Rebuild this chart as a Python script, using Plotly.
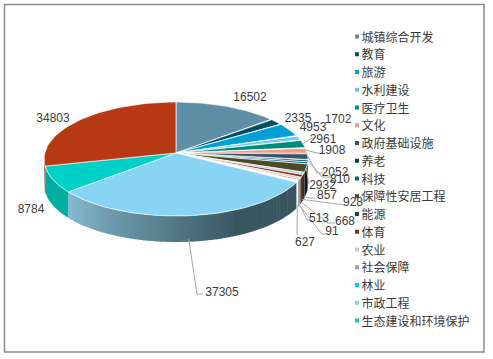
import numpy as np
import plotly.graph_objects as go

categories = ["城镇综合开发", "教育", "旅游", "水利建设", "医疗卫生", "文化", "政府基础设施", "养老", "科技",
              "保障性安居工程", "能源", "体育", "农业", "社会保障", "林业", "市政工程", "生态建设和环境保护"]
legend_colors = ["#5f8fa6", "#004d66", "#00a0d6", "#66ccf5", "#008a7c", "#f29a88", "#34586a", "#00405c", "#006a8a",
                 "#4b4b28", "#0a4a5e", "#8a2a14", "#e0c4b4", "#a0a4a4", "#00c5f5", "#87d4f5", "#00d1c8"]
values = [16502, 2335, 4953, 1702, 2961, 1908, 2052, 810, 700, 2932, 857, 928, 668, 513, 91, 627, 37305, 8784, 34803]
value_labels = ["16502", "2335", "4953", "1702", "2961", "1908", "2052", "810", "", "2932", "857", "928", "668", "513",
                "91", "627", "37305", "8784", "34803"]
slice_colors = ["#5f8fa6", "#004d66", "#00a0d6", "#66ccf5", "#008a7c", "#f29a88", "#34586a", "#00405c", "#006a8a",
                "#4b4b28", "#a9d6e6", "#8a2a14", "#e0c4b4", "#a0a4a4", "#00c5f5", "#ffffff", "#87d4f5", "#00d1c8",
                "#b83a14"]
wall_colors = ["#3a5a68", "#00303f", "#006488", "#3c8aa8", "#005a50", "#a06050", "#1f3a46", "#002a3c", "#00405a",
               "#141408", "#062c38", "#401206", "#907868", "#687070", "#0090b8", "#ffffff", None, "#00ad9f", "#8a2c10"]
label_pos = [(250, 97.5), (298, 118.5), (313, 127.5), (338, 119.5), (323, 139.5), (332, 150.5), (335, 172.5),
             (340, 179.5), (0, 0), (322.5, 185.5), (327, 195.5), (353, 202.5), (345, 221.5), (319, 218.5),
             (332, 231.5), (305, 242.5), (222, 292.5), (31, 209.5), (53, 118.5)]
leader_mid = [None, None, None, None, (312, 138), (317, 153), (317, 173), (322, 177), None, (309, 184),
              (310, 198), (340, 204), (328, 223), (307, 220), (322, 234), (297, 235), (197, 294), None, None]
leader_end = [None, None, None, None, (315, 138), (322, 153), (323, 173), (331, 177), None, (309, 184),
              (315, 198), (345, 205), (335, 223), (312, 220), (326, 234), (297, 235), (203, 294), None, None]

CX, CY, RX, RY, DEPTH = 176, 159, 132, 57, 26
APEX = (176, 153)
persp_in = [0, 49, 85, 100, 120, 231, 257, 360]
persp_out = [0, 46, 79, 94.5, 114, 235, 263, 360]


def warp(deg):
    return np.interp(deg, persp_in, persp_out)


def rim(deg, dy=0):
    t = np.radians(deg)
    return CX + RX * np.sin(t), CY - RY * np.cos(t) + dy


total = sum(values)
edges = np.concatenate([[0], np.cumsum(values)]) / total * 360
fig = go.Figure()


def poly(xs, ys, fill, line=None, width=0):
    fig.add_trace(go.Scatter(x=list(xs), y=list(ys), mode="lines", fill="toself", fillcolor=fill,
                             line=dict(color=line or fill, width=width if line else 0), hoverinfo="skip",
                             showlegend=False))


def mix(c1, c2, f):
    a = np.array([int(c1[i:i + 2], 16) for i in (1, 3, 5)])
    b = np.array([int(c2[i:i + 2], 16) for i in (1, 3, 5)])
    r = (a + (b - a) * f).astype(int)
    return f"rgb({r[0]},{r[1]},{r[2]})"


# side walls, back to front
order = sorted(range(len(values)), key=lambda i: -abs(180 - (warp(edges[i]) + warp(edges[i + 1])) / 2))
for i in order:
    a, b = warp(edges[i]), warp(edges[i + 1])
    a2, b2 = max(a, 90), min(b, 270)
    if a2 >= b2:
        continue
    if wall_colors[i] is None:
        steps = np.arange(a2, b2, 2.0)
        for s in steps:
            e = min(s + 2.4, b2)
            f = np.clip((s - a2) / (b2 - a2) * 1.45 - 0.45, 0, 1)
            ts = np.linspace(s, e, 4)
            x1, y1 = rim(ts)
            x2, y2 = rim(ts[::-1], DEPTH)
            poly(np.r_[x1, x2], np.r_[y1, y2], mix("#385660", "#86bcd2", f))
    else:
        ts = np.linspace(a2, b2, 30)
        x1, y1 = rim(ts)
        x2, y2 = rim(ts[::-1], DEPTH)
        poly(np.r_[x1, x2], np.r_[y1, y2], wall_colors[i], "rgba(255,255,255,0.35)", 0.5)

# top faces
for i in range(len(values)):
    ts = np.linspace(warp(edges[i]), warp(edges[i + 1]), 40)
    x, y = rim(ts)
    poly(np.r_[APEX[0], x, APEX[0]], np.r_[APEX[1], y, APEX[1]], slice_colors[i], "rgba(255,255,255,0.85)", 0.8)

# leader lines
for i, (m, e) in enumerate(zip(leader_mid, leader_end)):
    if m is None:
        continue
    mid = warp((edges[i] + edges[i + 1]) / 2)
    sx, sy = rim(mid, DEPTH * 0.9 if 100 < mid < 270 else 0)
    fig.add_trace(go.Scatter(x=[sx, m[0], e[0]], y=[sy, m[1], e[1]], mode="lines",
                             line=dict(color="#a8a8a8", width=1), hoverinfo="skip", showlegend=False))

# value labels
fig.add_trace(go.Scatter(x=[p[0] for p, t in zip(label_pos, value_labels) if t],
                         y=[p[1] for p, t in zip(label_pos, value_labels) if t], mode="text",
                         text=[t for t in value_labels if t], textposition="middle center",
                         textfont=dict(family="Liberation Sans", size=12, color="#3c3c3c"),
                         hoverinfo="skip", showlegend=False))

# legend
n = len(categories)
fig.add_trace(go.Scatter(x=[357] * n, y=[36.5 + 17.75 * k for k in range(n)], mode="markers",
                         marker=dict(symbol="square", size=4, color=legend_colors),
                         hoverinfo="skip", showlegend=False))
fig.add_trace(go.Scatter(x=[361.5] * n, y=[38.5 + 17.75 * k for k in range(n)], mode="text", text=categories,
                         textposition="middle right",
                         textfont=dict(family="Noto Sans CJK SC", size=12, color="#3a3a3a"),
                         hoverinfo="skip", showlegend=False))

fig.update_layout(width=493, height=359, margin=dict(l=0, r=0, t=0, b=0), paper_bgcolor="white",
                  plot_bgcolor="white", showlegend=False,
                  xaxis=dict(range=[0, 493], visible=False, fixedrange=True),
                  yaxis=dict(range=[359, 0], visible=False, fixedrange=True),
                  shapes=[dict(type="rect", x0=4.5, y0=4.5, x1=484, y1=352, line=dict(color="#8a8a8a", width=1.5))])
fig.write_html("out.html", config=dict(displayModeBar=False),
               post_script="document.body.style.margin='0';document.documentElement.style.overflow='hidden';")
